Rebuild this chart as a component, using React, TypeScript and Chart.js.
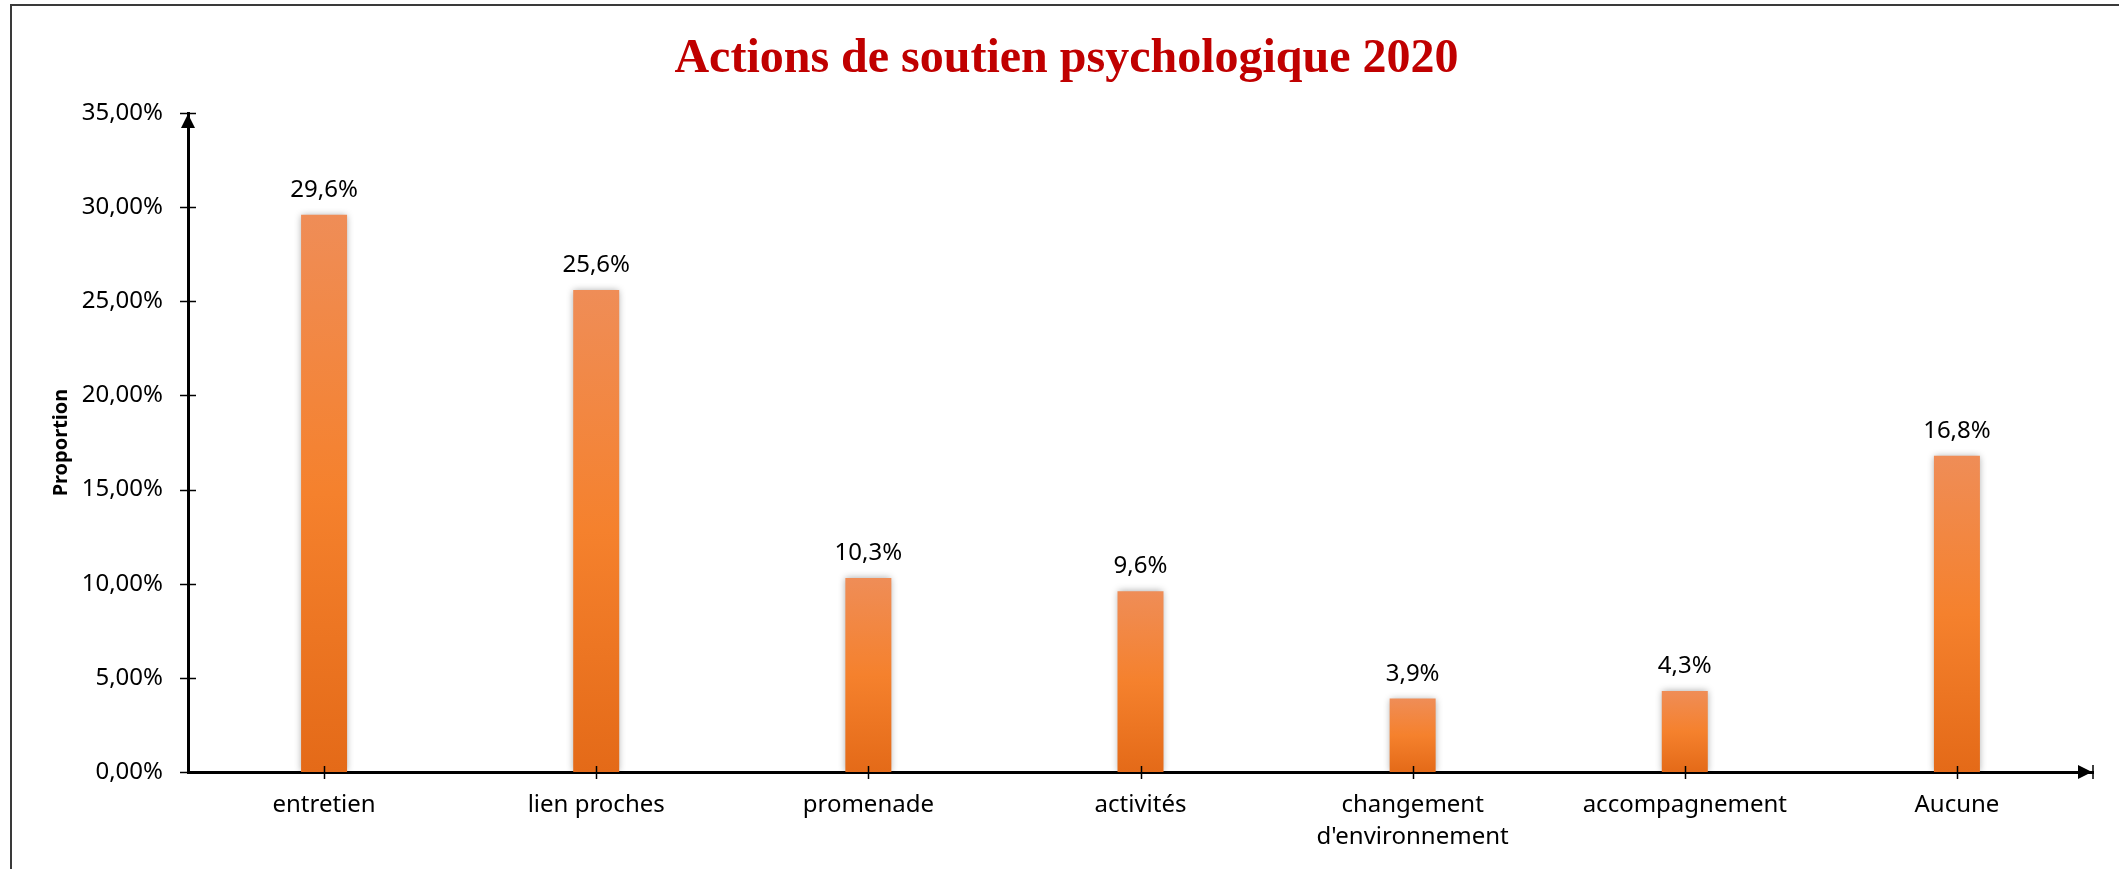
import React, { useEffect, useRef } from "react";
import { Chart, registerables } from "chart.js";

Chart.register(...registerables);

const TITLE = "Actions de soutien psychologique 2020";
const Y_TITLE = "Proportion";
const categories: (string | string[])[] = [
  "entretien",
  "lien proches",
  "promenade",
  "activités",
  ["changement", "d'environnement"],
  "accompagnement",
  "Aucune",
];
const values: number[] = [29.6, 25.6, 10.3, 9.6, 3.9, 4.3, 16.8];
const Y_MIN = 0;
const Y_MAX = 35;
const Y_STEP = 5;

const FONT = "'Noto Sans', 'Open Sans', sans-serif";

const fmtTick = (v: number) => v.toFixed(2).replace(".", ",") + "%";
const fmtLabel = (v: number) => v.toFixed(1).replace(".", ",") + "%";

const decorPlugin = {
  id: "decor",
  beforeDraw(chart: any) {
    const ctx = chart.ctx;
    ctx.save();
    ctx.fillStyle = "#ffffff";
    ctx.fillRect(0, 0, chart.width, chart.height);
    ctx.strokeStyle = "#3a3a3a";
    ctx.lineWidth = 2;
    ctx.beginPath();
    ctx.moveTo(11, chart.height + 5);
    ctx.lineTo(11, 5);
    ctx.lineTo(chart.width + 5, 5);
    ctx.stroke();
    ctx.restore();
  },
  beforeDatasetsDraw(chart: any) {
    const ctx = chart.ctx;
    ctx.save();
    ctx.shadowColor = "rgba(0,0,0,0.35)";
    ctx.shadowBlur = 7;
    ctx.shadowOffsetX = 0;
    ctx.shadowOffsetY = 0;
  },
  afterDatasetsDraw(chart: any) {
    const ctx = chart.ctx;
    ctx.restore();
    const meta = chart.getDatasetMeta(0);
    ctx.save();
    ctx.font = `24px ${FONT}`;
    ctx.fillStyle = "#000";
    ctx.textAlign = "center";
    ctx.textBaseline = "alphabetic";
    meta.data.forEach((el: any, i: number) => {
      ctx.fillText(fmtLabel(values[i]), el.x, el.y - 18);
    });
    ctx.restore();
  },
  afterDraw(chart: any) {
    const ctx = chart.ctx;
    const { left, right, top, bottom } = chart.chartArea;
    const xs = chart.scales.x;
    const ys = chart.scales.y;
    ctx.save();
    ctx.strokeStyle = "#000";
    ctx.fillStyle = "#000";
    ctx.lineWidth = 1.5;
    ys.ticks.forEach((_t: any, i: number) => {
      const y = Math.round(ys.getPixelForTick(i)) + 0.5;
      ctx.beginPath();
      ctx.moveTo(left - 8, y);
      ctx.lineTo(left + 8, y);
      ctx.stroke();
    });
    xs.ticks.forEach((_t: any, i: number) => {
      const x = Math.round(xs.getPixelForTick(i)) + 0.5;
      ctx.beginPath();
      ctx.moveTo(x, bottom - 6);
      ctx.lineTo(x, bottom + 7);
      ctx.stroke();
    });
    ctx.beginPath();
    ctx.moveTo(right, bottom - 7);
    ctx.lineTo(right, bottom + 7);
    ctx.stroke();
    ctx.beginPath();
    ctx.moveTo(left, top + 1);
    ctx.lineTo(left - 7, top + 15);
    ctx.lineTo(left + 7, top + 15);
    ctx.closePath();
    ctx.fill();
    ctx.beginPath();
    ctx.moveTo(right - 1, bottom);
    ctx.lineTo(right - 15, bottom - 7);
    ctx.lineTo(right - 15, bottom + 7);
    ctx.closePath();
    ctx.fill();
    ctx.restore();
  },
};

export default function App() {
  const ref = useRef<HTMLCanvasElement | null>(null);
  useEffect(() => {
    document.body.style.margin = "0";
    if (!ref.current) return;
    const chart = new Chart(ref.current, {
      type: "bar",
      data: {
        labels: categories,
        datasets: [
          {
            data: values,
            backgroundColor: (c: any) => {
              const fallback = "#F47F2A";
              if (c.type !== "data") return fallback;
              const ys = c.chart.scales.y;
              if (!ys) return fallback;
              const t = ys.getPixelForValue(c.raw);
              const b = ys.getPixelForValue(0);
              if (!isFinite(t) || !isFinite(b) || t === b) return fallback;
              const g = c.chart.ctx.createLinearGradient(0, t, 0, b);
              g.addColorStop(0, "#EF8D57");
              g.addColorStop(0.5, "#F5812D");
              g.addColorStop(1, "#E46A18");
              return g;
            },
            borderWidth: 0,
            barPercentage: 0.169,
            categoryPercentage: 1,
          },
        ],
      },
      options: {
        animation: false,
        responsive: false,
        maintainAspectRatio: false,
        events: [],
        layout: { padding: { left: 40, right: 26, top: 0, bottom: 0 } },
        plugins: {
          legend: { display: false },
          tooltip: { enabled: false },
          title: {
            display: true,
            text: TITLE,
            color: "#C00000",
            font: { family: "'Liberation Serif', 'Times New Roman', serif", size: 48, weight: "bold" },
            padding: { top: 31, bottom: 24.4 },
          },
        },
        scales: {
          x: {
            offset: true,
            grid: { display: false, drawTicks: false },
            border: { display: true, color: "#000", width: 3 },
            ticks: {
              color: "#000",
              padding: 17,
              maxRotation: 0,
              autoSkip: false,
              font: { family: FONT, size: 24, lineHeight: 1.35 },
            },
            afterFit: (s: any) => {
              s.height = 97;
            },
          },
          y: {
            min: Y_MIN,
            max: Y_MAX,
            grid: { display: false, drawTicks: false },
            border: { display: true, color: "#000", width: 3 },
            ticks: {
              stepSize: Y_STEP,
              color: "#000",
              padding: 25,
              font: { family: FONT, size: 24 },
              callback: (v: any) => fmtTick(Number(v)),
            },
            title: {
              display: true,
              text: Y_TITLE,
              color: "#000",
              font: { family: FONT, size: 20, weight: "bold" },
              padding: { top: 9, bottom: 0 },
            },
            afterFit: (s: any) => {
              s.width = 148;
            },
          },
        },
      },
      plugins: [decorPlugin],
    });
    return () => chart.destroy();
  }, []);
  return (
    <div style={{ position: "absolute", left: 0, top: 0, width: 2119, height: 869 }}>
      <canvas ref={ref} width={2119} height={869} style={{ display: "block", width: 2119, height: 869 }} />
    </div>
  );
}
